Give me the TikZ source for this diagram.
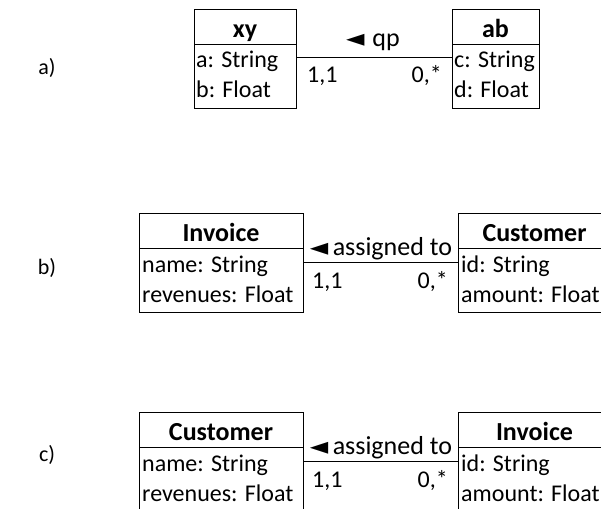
\documentclass[tikz,border=0pt]{standalone}
\usepackage{fontspec}
\setmainfont{Carlito}
\newfontfamily\symfont{DejaVu Sans}
\begin{document}
\begin{tikzpicture}[x=1pt,y=-1pt,
  box/.style={draw, line width=1pt, inner sep=0pt, anchor=north west},
  hdr/.style={box, minimum height=35pt},
  bdy/.style={box, minimum height=64pt},
  ttl/.style={anchor=base, inner sep=0pt, font=\fontsize{26}{30}\selectfont\bfseries},
  attr/.style={anchor=base west, inner sep=0pt, font=\fontsize{24}{29}\selectfont},
  rel/.style={anchor=base, inner sep=0pt, font=\fontsize{26}{30}\selectfont},
  multl/.style={anchor=base west, inner sep=0pt, font=\fontsize{24}{29}\selectfont},
  multr/.style={anchor=base east, inner sep=0pt, font=\fontsize{24}{29}\selectfont},
  sec/.style={anchor=center, inner sep=0pt, font=\fontsize{22}{26}\selectfont},
  conn/.style={line width=1pt}]
\useasboundingbox (0,0) rectangle (601,508);
\clip (0,0) rectangle (601,508);
\newcommand\tri{{\symfont\fontsize{24}{24}\selectfont ◄}}
% a)
\node[sec] (la) at (47,68) {a)};
\node[hdr, minimum width=102pt] (xyh) at (194,9) {};
\node[bdy, minimum width=102pt] (xyb) at (194,44) {};
\node[ttl] (xyt) at (245,37.5) {xy};
\node[attr] (xya) at (196,68) {a: String};
\node[attr] (xyc) at (196,98) {b: Float};
\node[hdr, minimum width=87pt] (abh) at (452,9) {};
\node[bdy, minimum width=87pt] (abb) at (452,44) {};
\node[ttl] (abt) at (495.5,37.5) {ab};
\node[attr] (aba) at (454,68) {c: String};
\node[attr] (abc) at (454,98) {d: Float};
\draw[conn] ([yshift=-14pt]xyb.north east) -- ([yshift=-14pt]abb.north west);
\node[rel] (qp) at (373,47) {\tri\hspace{0.3em}qp};
\node[multl] (m1a) at (307,83) {1,1};
\node[multr] (m2a) at (442,83) {0,*};
% b)
\node[sec] (lb) at (47,268) {b)};
\node[hdr, minimum width=164pt] (invh) at (139,213) {};
\node[bdy, minimum width=164pt] (invb) at (139,248) {};
\node[ttl] (invt) at (221,241.5) {Invoice};
\node[attr] (inva) at (142,272) {name: String};
\node[attr] (invc) at (142,302) {revenues: Float};
\node[hdr, minimum width=153pt] (cush) at (458,213) {};
\node[bdy, minimum width=153pt] (cusb) at (458,248) {};
\node[ttl] (cust) at (534.5,241.5) {Customer};
\node[attr] (cusa) at (461,272) {id: String};
\node[attr] (cusc) at (461,302) {amount: Float};
\draw[conn] ([yshift=-14pt]invb.north east) -- ([yshift=-14pt]cusb.north west);
\node[rel] (asb) at (381,255) {\tri\,assigned to};
\node[multl] (m1b) at (312,288) {1,1};
\node[multr] (m2b) at (448,288) {0,*};
% c)
\node[sec] (lc) at (47,455) {c)};
\node[hdr, minimum width=164pt] (cus2h) at (139,412) {};
\node[bdy, minimum width=164pt] (cus2b) at (139,447) {};
\node[ttl] (cus2t) at (221,440.5) {Customer};
\node[attr] (cus2a) at (142,471) {name: String};
\node[attr] (cus2c) at (142,501) {revenues: Float};
\node[hdr, minimum width=153pt] (inv2h) at (458,412) {};
\node[bdy, minimum width=153pt] (inv2b) at (458,447) {};
\node[ttl] (inv2t) at (534.5,440.5) {Invoice};
\node[attr] (inv2a) at (461,471) {id: String};
\node[attr] (inv2c) at (461,501) {amount: Float};
\draw[conn] ([yshift=-14pt]cus2b.north east) -- ([yshift=-14pt]inv2b.north west);
\node[rel] (asc) at (381,454) {\tri\,assigned to};
\node[multl] (m1c) at (312,487) {1,1};
\node[multr] (m2c) at (448,487) {0,*};
\end{tikzpicture}
\end{document}
